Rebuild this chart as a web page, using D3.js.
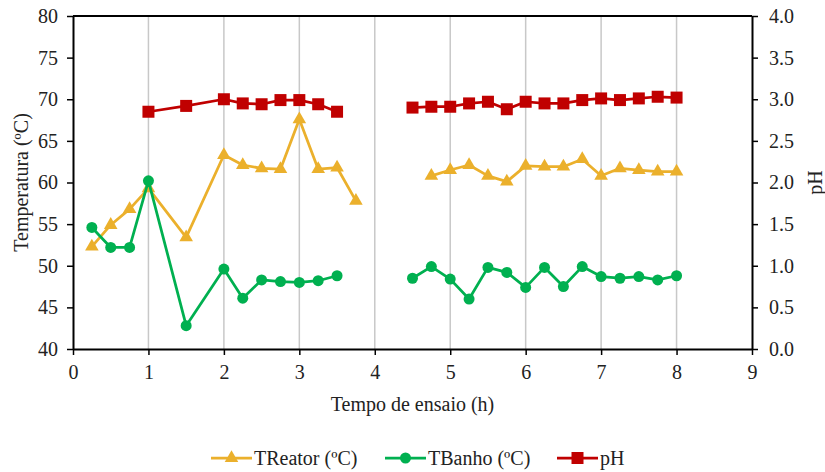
<!DOCTYPE html>
<html>
<head>
<meta charset="utf-8">
<script src="https://cdn.jsdelivr.net/npm/d3@7"></script>
<style>
  body { margin: 0; background: #fff; }
</style>
</head>
<body>
<div id="chart"></div>
<script>
// data
let times   = [0.25, 0.5, 0.75, 1, 1.5, 2, 2.25, 2.5, 2.75, 3, 3.25, 3.5, 3.75,
               4.5, 4.75, 5, 5.25, 5.5, 5.75, 6, 6.25, 6.5, 6.75, 7, 7.25, 7.5, 7.75, 8];
let tReator = [52.3, 54.9, 56.8, 59.3, 53.4, 63.3, 62.1, 61.7, 61.6, 67.6, 61.6, 61.8, 57.8,
               null, 60.8, 61.5, 62.1, 60.8, 60.1, 62.0, 61.9, 61.9, 62.8, 60.8, 61.7, 61.5, 61.3, 61.3];
let tBanho  = [54.6, 52.2, 52.2, 60.2, 42.8, 49.6, 46.1, 48.3, 48.1, 48.0, 48.2, 48.8, null,
               48.5, 49.9, 48.4, 46.0, 49.8, 49.2, 47.4, 49.8, 47.5, 49.9, 48.7, 48.5, 48.7, 48.3, 48.8];
let pH      = [null, null, null, 2.85, 2.92, 3.00, 2.95, 2.94, 2.99, 2.99, 2.94, 2.85, null,
               2.90, 2.91, 2.91, 2.95, 2.97, 2.88, 2.97, 2.95, 2.95, 2.99, 3.01, 2.99, 3.01, 3.03, 3.02];

let xTicks  = [0, 1, 2, 3, 4, 5, 6, 7, 8, 9];
let yTicks  = [40, 45, 50, 55, 60, 65, 70, 75, 80];
let y2Ticks = [0, 0.5, 1, 1.5, 2, 2.5, 3, 3.5, 4];

let width = 825, height = 472;
let margin = {left: 73, right: 73, top: 16, bottom: 123};
let font = "Liberation Serif";

let svg = d3.select("#chart").append("svg")
  .attr("width", width)
  .attr("height", height)
  .attr("font-family", font);

let x = d3.scaleLinear().domain([0, 9]).range([margin.left, width - margin.right]);
let y = d3.scaleLinear().domain([40, 80]).range([height - margin.bottom, margin.top]);
let y2 = d3.scaleLinear().domain([0, 4]).range([height - margin.bottom, margin.top]);

// vertical gridlines
svg.append("g")
  .selectAll("line")
  .data(xTicks.slice(1, -1))
  .enter().append("line")
  .attr("x1", d => x(d)).attr("x2", d => x(d))
  .attr("y1", y(40)).attr("y2", y(80))
  .attr("stroke", "#c8c8c8")
  .attr("stroke-width", 1.5);

// top border
svg.append("line")
  .attr("x1", x(0)).attr("x2", x(9))
  .attr("y1", y(80)).attr("y2", y(80))
  .attr("stroke", "#000").attr("stroke-width", 2);

function styleAxis(g) {
  g.attr("font-family", font).attr("font-size", 20);
  g.selectAll("path").attr("stroke", "#000").attr("stroke-width", 2);
  g.selectAll("line").attr("stroke", "#000").attr("stroke-width", 1.5);
  g.selectAll("text").attr("font-family", font).attr("font-size", 20).attr("fill", "#222");
}

svg.append("g")
  .attr("transform", "translate(0," + y(40) + ")")
  .call(d3.axisBottom(x).tickValues(xTicks).tickSize(6).tickPadding(10).tickSizeOuter(0))
  .call(styleAxis);

svg.append("g")
  .attr("transform", "translate(" + x(0) + ",0)")
  .call(d3.axisLeft(y).tickValues(yTicks).tickSize(6).tickPadding(9).tickSizeOuter(0))
  .call(styleAxis);

svg.append("g")
  .attr("transform", "translate(" + x(9) + ",0)")
  .call(d3.axisRight(y2).tickValues(y2Ticks).tickFormat(d3.format(".1f")).tickSize(6).tickPadding(11).tickSizeOuter(0))
  .call(styleAxis);

// axis titles
function title(t) {
  return t.attr("text-anchor", "middle")
    .attr("font-family", font)
    .attr("font-size", 20)
    .attr("fill", "#222");
}

svg.append("text")
  .attr("x", (x(0) + x(9)) / 2).attr("y", 411)
  .call(title)
  .text("Tempo de ensaio (h)");

svg.append("text")
  .attr("transform", "translate(28," + (y(60)) + ") rotate(-90)")
  .call(title)
  .text("Temperatura (ºC)");

svg.append("text")
  .attr("transform", "translate(822," + (y(60)) + ") rotate(-90)")
  .call(title)
  .text("pH");

let series = [
  {name: "TReator (ºC)", values: tReator, scale: y, color: "#EBB02C", shape: "triangle"},
  {name: "TBanho (ºC)", values: tBanho, scale: y, color: "#00B050", shape: "circle"},
  {name: "pH", values: pH, scale: y2, color: "#C00000", shape: "square"}
];

function marker(g, shape, color) {
  if (shape == "triangle") {
    g.append("path").attr("d", d3.symbol().type(d3.symbolTriangle).size(80)()).attr("fill", color);
  } else if (shape == "circle") {
    g.append("circle").attr("r", 5.5).attr("fill", color);
  } else {
    g.append("rect").attr("x", -6).attr("y", -6).attr("width", 12).attr("height", 12).attr("fill", color);
  }
}

series.forEach(s => {
  let pts = times.map((t, i) => ({t: t, v: s.values[i]}));
  let line = d3.line()
    .defined(d => d.v != null)
    .x(d => x(d.t))
    .y(d => s.scale(d.v));
  svg.append("path")
    .datum(pts)
    .attr("d", line)
    .attr("fill", "none")
    .attr("stroke", s.color)
    .attr("stroke-width", 2.75)
    .attr("stroke-linejoin", "round");
  svg.append("g")
    .selectAll("g")
    .data(pts.filter(d => d.v != null))
    .enter().append("g")
    .attr("transform", d => "translate(" + x(d.t) + "," + s.scale(d.v) + ")")
    .each(function() { marker(d3.select(this), s.shape, s.color); });
});

// legend
let legendX = [211, 385, 557];
series.forEach((s, i) => {
  let g = svg.append("g").attr("transform", "translate(" + legendX[i] + ",458)");
  g.append("line").attr("x1", 0).attr("x2", 41).attr("stroke", s.color).attr("stroke-width", 2.75);
  let m = g.append("g").attr("transform", "translate(20.5,0)");
  marker(m, s.shape, s.color);
  g.append("text").attr("x", 43).attr("y", 7)
    .attr("font-family", font)
    .attr("font-size", 20)
    .attr("fill", "#222")
    .text(s.name);
});
</script>
</body>
</html>
